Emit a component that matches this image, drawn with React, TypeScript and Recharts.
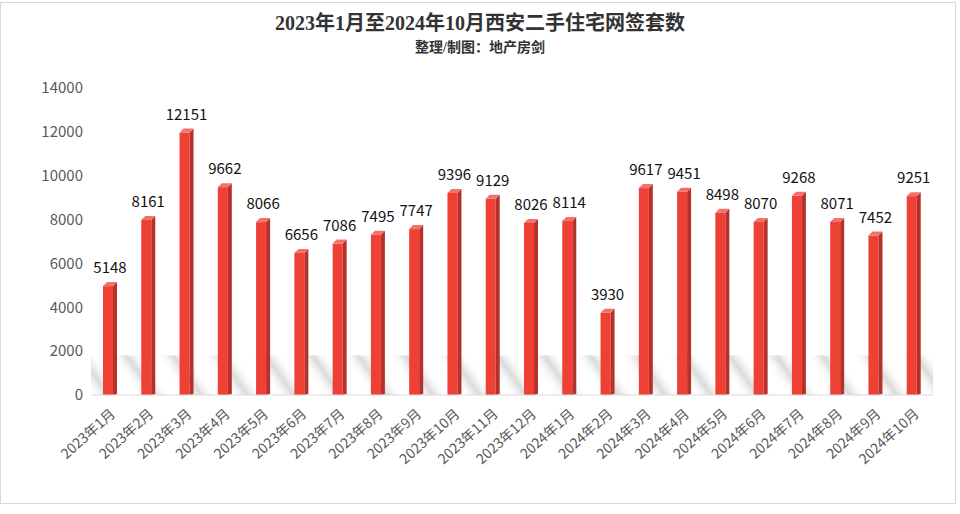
import { BarChart, Bar, XAxis, YAxis, LabelList, ReferenceArea } from 'recharts'

const months = [
  '2023年1月', '2023年2月', '2023年3月', '2023年4月', '2023年5月', '2023年6月',
  '2023年7月', '2023年8月', '2023年9月', '2023年10月', '2023年11月', '2023年12月',
  '2024年1月', '2024年2月', '2024年3月', '2024年4月', '2024年5月', '2024年6月',
  '2024年7月', '2024年8月', '2024年9月', '2024年10月',
]
const deals = [
  5148, 8161, 12151, 9662, 8066, 6656, 7086, 7495, 7747, 9396, 9129, 8026,
  8114, 3930, 9617, 9451, 8498, 8070, 9268, 8071, 7452, 9251,
]
const yTicks = [0, 2000, 4000, 6000, 8000, 10000, 12000, 14000]

const data = months.map((m, i) => ({ name: m, value: deals[i] }))

const font = "'Noto Sans CJK SC', 'Open Sans', sans-serif"

// pseudo 3D column: front face, darker side, lighter top
const Column = (props: any) => {
  const { x, y, width, height } = props
  const d = 4
  const w = width - d
  const bottom = y + height
  return (
    <g>
      <rect x={x} y={y + d} width={w} height={height - d} fill="#EE4035" />
      <path d={`M${x + w},${y + d} L${x + width},${y} L${x + width},${bottom - 1} L${x + w},${bottom} Z`} fill="#B8302A" />
      <path d={`M${x},${y + d} L${x + d},${y} L${x + width},${y} L${x + w},${y + d} Z`} fill="#F4706A" />
    </g>
  )
}

const XTick = (props: any) => {
  const { x, y, payload } = props
  const ax = x + 6
  const ay = y + 12
  return (
    <text
      x={ax}
      y={ay}
      textAnchor="end"
      transform={`rotate(-42, ${ax}, ${ay})`}
      fontSize={14}
      fill="#595959"
      fontFamily={font}
    >
      {payload.value}
    </text>
  )
}

export default function App() {
  return (
    <div style={{ position: 'absolute', left: 0, top: 0, width: 960, height: 514, background: '#fff' }}>
      <div
        style={{
          position: 'absolute', left: 0, top: 2, width: 956, height: 502,
          border: '1px solid #d9d9d9', boxSizing: 'border-box',
        }}
      />
      <div
        style={{
          position: 'absolute', left: 0, top: 7, width: 960, textAlign: 'center',
          fontFamily: "'Liberation Serif', 'Noto Sans CJK SC', serif", fontSize: 20,
          fontWeight: 'bold', color: '#333',
        }}
      >
        2023年1月至2024年10月西安二手住宅网签套数
      </div>
      <div
        style={{
          position: 'absolute', left: 0, top: 36, width: 960, textAlign: 'center',
          fontFamily: "'Liberation Serif', 'Noto Sans CJK SC', serif", fontSize: 14,
          fontWeight: 'bold', color: '#333',
        }}
      >
        整理/制图：地产房剑
      </div>
      <BarChart
        width={960}
        height={514}
        data={data}
        margin={{ top: 88, right: 27, left: 0, bottom: 29 }}
        barSize={14}
        style={{ position: 'absolute', left: 0, top: 0 }}
      >
        <defs>
          <linearGradient id="shine" x1="0" y1="0" x2="1" y2="0">
            <stop offset="0" stopColor="#ffffff" stopOpacity={0} />
            <stop offset="0.5" stopColor="#a0a0a0" stopOpacity={0.4} />
            <stop offset="1" stopColor="#ffffff" stopOpacity={0} />
          </linearGradient>
          <pattern id="stripes" width="38" height="38" patternUnits="userSpaceOnUse" patternTransform="rotate(-35)">
            <rect x="0" y="0" width="28" height="38" fill="url(#shine)" />
          </pattern>
        </defs>
        <ReferenceArea y1={0} y2={1800} fill="url(#stripes)" fillOpacity={1} stroke="none" ifOverflow="hidden" />
        <XAxis
          dataKey="name"
          interval={0}
          height={90}
          tickLine={false}
          axisLine={{ stroke: '#d9d9d9' }}
          tick={<XTick />}
        />
        <YAxis
          width={91}
          domain={[0, 14000]}
          ticks={yTicks}
          axisLine={false}
          tickLine={false}
          tick={{ fontSize: 15, fill: '#595959', fontFamily: font }}
        />
        <Bar dataKey="value" shape={<Column />} isAnimationActive={false}>
          <LabelList
            dataKey="value"
            position="top"
            offset={9}
            style={{ fontSize: 15, fill: '#111', fontFamily: font }}
          />
        </Bar>
      </BarChart>
    </div>
  )
}
